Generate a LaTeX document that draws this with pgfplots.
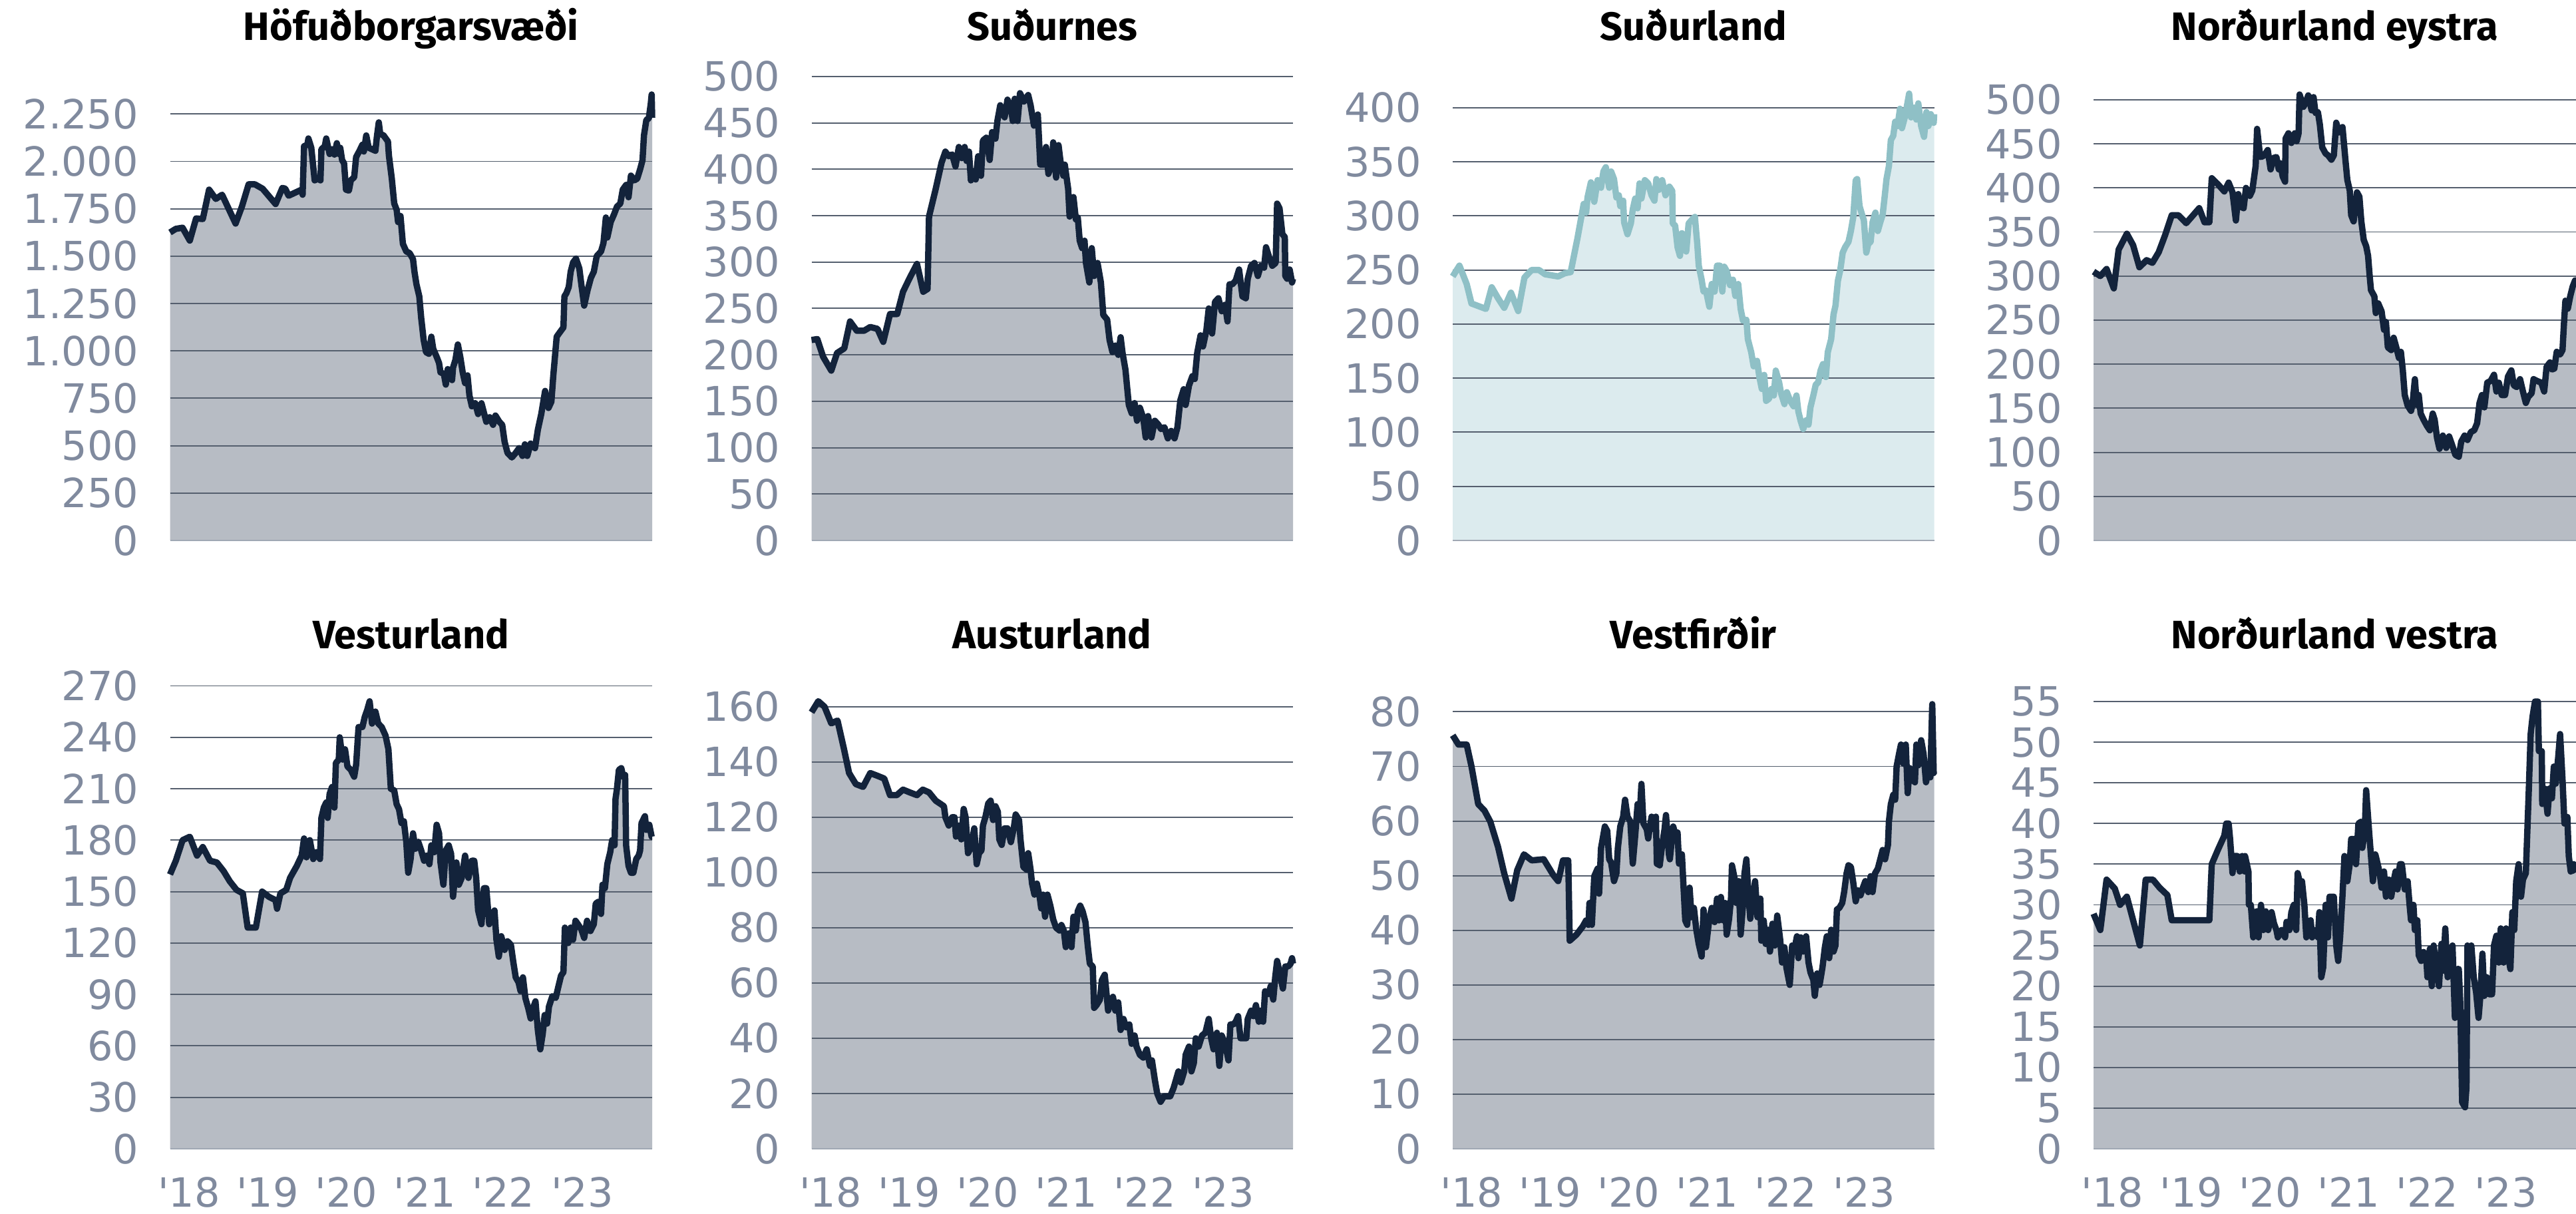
\documentclass[border=0pt]{standalone}
\usepackage{pgfplots}
\pgfplotsset{compat=1.18}
\usepackage{pgfplotstable}
\usepackage{fontspec}
\newfontfamily\tickfamily{DejaVu Sans}
\newfontfamily\titlefamily{Fira Sans}
\newcommand\tickfont{\tickfamily\fontsize{12.1}{14}\selectfont}
\newcommand\titlefont{\titlefamily\bfseries\fontsize{11.9}{14}\selectfont}
\definecolor{navy}{RGB}{19,35,59}
\definecolor{fillgray}{RGB}{183,188,196}
\definecolor{gridc}{RGB}{85,95,110}
\definecolor{basec}{RGB}{160,168,180}
\definecolor{tickc}{RGB}{128,138,158}
\definecolor{tealline}{RGB}{143,192,198}
\definecolor{tealfill}{RGB}{220,235,238}

\pgfplotsset{
  panel/.style={scale only axis, anchor=south west, xmin=0, xmax=100, ymin=0,
    axis line style={draw=none}, tick style={draw=none}, major tick length=0pt,
    ymajorgrids, xmajorgrids=false,
    grid style={color=gridc, line width=0.38pt},
    extra y ticks={0}, extra y tick style={grid=major, grid style={color=basec, line width=0.5pt}},
    clip=false, set layers,
    /pgf/number format/assume math mode=true, /pgf/number format/1000 sep={.},
    yticklabel style={font=\tickfont, text=tickc, inner sep=0pt, xshift=-9.3pt},
    xticklabel style={font=\tickfont, text=tickc, inner sep=0pt, yshift=-8.4pt},
    xtick=\empty},
  bottomrow/.style={xtick={3.93,20.24,36.55,52.86,69.17,85.48}, xticklabels={'18,'19,'20,'21,'22,'23}},
  darkline/.style={color=navy, line width=1.9pt, line join=round},
  darkfill/.style={fill=fillgray, draw=none, on layer=axis background},
}

\pgfplotstableread[row sep=\\]{x y\\
0 1625\\1.2 1644\\2.6 1650\\4.1 1582\\5.4 1699\\6.8 1696\\8.1 1851\\9.5 1802\\10.8 1824\\13.6 1672\\14.9 1761\\16.3 1879\\17.6 1879\\19.2 1856\\21.9 1775\\23.3 1860\\23.9 1856\\24.6 1819\\27.3 1851\\27.5 1824\\27.8 2080\\28.5 2088\\28.7 2121\\29.3 2072\\30.0 1900\\30.7 1909\\31.2 1900\\31.4 2064\\32.1 2080\\32.4 2121\\33.1 2039\\33.6 2064\\34.1 2036\\34.6 2096\\35.0 2039\\35.3 2072\\35.7 2006\\36.1 1990\\36.5 1851\\37.1 1846\\37.5 1900\\38.2 1917\\38.6 2023\\39.3 2056\\39.9 2088\\40.2 2052\\40.7 2137\\41.2 2072\\41.9 2064\\42.6 2056\\42.9 2129\\43.3 2206\\43.6 2145\\44.3 2137\\45.2 2105\\45.4 2031\\46.0 1909\\46.5 1778\\47.0 1745\\47.3 1680\\47.8 1712\\48.3 1565\\49.0 1525\\49.7 1516\\50.4 1484\\50.7 1418\\51.1 1353\\51.7 1288\\52.1 1173\\52.6 1059\\53.1 993\\53.7 985\\54.2 1075\\54.6 1010\\55.3 969\\55.8 936\\56.1 887\\56.8 879\\57.2 822\\57.6 904\\58.0 871\\58.5 846\\58.7 912\\59.2 953\\59.7 1034\\60.2 969\\60.7 887\\61.2 830\\61.7 871\\62.1 765\\62.6 708\\63.3 724\\63.9 667\\64.6 724\\65.1 675\\65.6 626\\66.3 650\\67.0 610\\67.5 659\\68.3 626\\68.9 610\\69.4 520\\70.0 462\\70.9 438\\71.7 462\\72.4 487\\73.1 446\\73.6 507\\74.1 446\\74.8 511\\75.7 487\\76.3 585\\77.0 667\\77.8 789\\78.5 699\\79.1 732\\79.5 871\\80.2 1075\\80.9 1100\\81.6 1124\\81.8 1288\\82.2 1304\\82.7 1337\\83.1 1418\\83.6 1467\\84.2 1487\\84.9 1435\\85.3 1353\\85.9 1239\\86.6 1320\\87.3 1386\\87.9 1418\\88.5 1500\\89.4 1525\\89.9 1569\\90.4 1704\\90.7 1598\\91.4 1680\\92.1 1721\\92.7 1761\\93.4 1778\\93.9 1851\\94.6 1876\\95.1 1811\\95.6 1925\\96.3 1900\\96.9 1909\\97.5 1958\\98.0 2006\\98.3 2137\\98.8 2219\\99.3 2227\\99.7 2301\\99.9 2353\\100 2230\\
}\tA

\pgfplotstableread[row sep=\\]{x y\\
0 216\\1.2 217\\2.4 198\\4.1 183\\5.3 202\\6.8 207\\8.0 236\\9.4 226\\10.9 226\\12.2 230\\13.7 228\\14.9 214\\16.3 244\\17.8 244\\19.0 268\\20.4 283\\21.9 298\\23.2 268\\24.1 271\\24.4 349\\25.8 379\\27.0 407\\27.8 419\\28.5 414\\29.2 416\\29.9 403\\30.6 424\\31.2 412\\31.8 424\\32.2 409\\32.7 419\\33.1 388\\33.6 398\\34.1 389\\34.6 414\\35.2 393\\35.6 431\\36.3 434\\37.0 410\\37.5 440\\38.2 433\\38.6 452\\39.2 469\\40.1 456\\40.7 475\\41.4 467\\41.8 452\\42.2 476\\42.8 452\\43.3 482\\44.1 473\\45.0 480\\45.5 469\\46.2 447\\47.0 459\\47.5 405\\48.3 405\\48.7 424\\49.2 395\\49.9 407\\50.2 429\\50.8 391\\51.3 426\\51.7 409\\52.3 393\\52.6 405\\53.3 379\\53.6 349\\54.4 370\\54.9 346\\55.3 348\\55.7 323\\56.2 315\\56.7 323\\57.0 299\\57.7 278\\58.2 315\\58.7 285\\59.4 299\\60.1 278\\60.6 243\\61.4 238\\61.9 216\\62.5 203\\63.1 210\\63.7 200\\64.2 219\\64.6 202\\65.2 184\\65.9 146\\66.5 137\\67.1 148\\67.6 129\\68.2 143\\68.9 132\\69.4 111\\69.9 134\\70.6 111\\71.3 129\\72.0 125\\72.6 120\\73.3 122\\74.0 110\\74.7 118\\75.4 110\\76.0 122\\76.6 151\\77.3 163\\77.7 146\\78.4 167\\79.1 177\\79.6 174\\80.1 202\\80.8 221\\81.3 209\\82.0 226\\82.5 250\\83.2 223\\83.8 257\\84.5 261\\85.2 247\\85.9 254\\86.4 236\\86.8 276\\87.4 276\\88.1 280\\88.8 292\\89.5 263\\90.2 261\\90.6 282\\91.3 296\\92.0 299\\92.7 285\\93.3 296\\94.0 294\\94.4 316\\95.0 306\\95.7 296\\96.4 299\\96.7 363\\97.2 358\\97.8 330\\98.3 327\\98.4 285\\98.8 282\\99.3 292\\99.8 278\\100 282\\
}\tB

\pgfplotstableread[row sep=\\]{x y\\
0 244\\1.4 254\\2.9 237\\3.9 219\\6.9 214\\8.1 234\\9.4 224\\10.7 215\\12.1 229\\13.6 212\\14.9 243\\16.4 250\\17.9 250\\19.2 246\\21.9 244\\23.3 247\\24.5 248\\25.9 279\\27.2 311\\27.7 303\\28.0 317\\28.7 331\\29.4 313\\30.1 333\\30.8 326\\31.3 341\\31.8 345\\32.5 326\\32.9 341\\33.5 334\\34.0 317\\34.5 319\\34.8 309\\35.4 314\\35.6 294\\36.3 283\\37.0 293\\37.4 306\\37.9 316\\38.4 307\\38.8 330\\39.2 316\\39.9 333\\40.6 330\\41.3 319\\41.9 314\\42.3 334\\42.8 324\\43.5 333\\44.2 319\\45.0 327\\45.6 323\\45.7 293\\46.2 291\\46.7 271\\47.2 263\\47.6 284\\48.1 281\\48.5 267\\49.0 293\\49.8 297\\50.3 299\\50.8 274\\51.1 254\\51.7 241\\52.1 230\\52.6 231\\53.3 216\\53.8 237\\54.4 230\\54.9 254\\55.5 254\\56.0 230\\56.4 253\\56.9 249\\57.6 236\\58.2 241\\58.7 226\\59.3 237\\59.8 214\\60.3 203\\61.0 204\\61.3 186\\62.0 174\\62.5 161\\63.2 166\\63.7 151\\64.2 140\\64.7 153\\65.1 129\\65.7 131\\66.2 140\\66.7 134\\67.1 157\\67.8 146\\68.2 136\\68.9 126\\69.4 137\\70.1 129\\70.8 124\\71.4 134\\71.8 119\\72.3 110\\72.8 103\\73.4 111\\73.9 107\\74.3 123\\74.9 134\\75.4 144\\75.9 146\\76.4 157\\76.9 163\\77.5 151\\77.9 174\\78.6 186\\79.1 209\\79.5 217\\80.0 240\\80.5 250\\81.0 266\\81.5 271\\82.2 276\\82.7 286\\83.2 299\\83.7 333\\84.0 334\\84.5 309\\85.1 300\\85.4 296\\85.9 266\\86.3 274\\86.8 276\\87.2 294\\87.8 303\\88.3 286\\88.8 294\\89.3 301\\89.7 317\\90.1 334\\90.6 346\\91.0 370\\91.5 374\\91.9 387\\92.4 383\\92.9 399\\93.3 381\\93.9 391\\94.4 403\\94.8 413\\95.2 391\\95.8 400\\96.3 389\\96.7 404\\97.3 383\\97.9 373\\98.4 396\\98.8 383\\99.3 394\\99.9 386\\100 394\\
}\tC

\pgfplotstableread[row sep=\\]{x y\\
0 305\\1.4 300\\2.7 308\\4.2 286\\5.2 330\\6.9 348\\8.2 335\\9.5 310\\11.0 318\\12.2 315\\13.5 327\\14.8 346\\16.2 369\\17.6 369\\19.2 360\\21.9 377\\23.0 361\\24.0 361\\24.5 411\\25.8 404\\27.1 396\\28.0 406\\28.8 395\\29.5 363\\30.0 393\\30.4 379\\31.1 377\\31.6 400\\32.4 391\\32.9 397\\33.6 425\\33.9 467\\34.4 442\\34.7 435\\35.4 437\\36.1 443\\36.7 421\\37.3 434\\37.9 435\\38.4 421\\38.7 428\\39.2 413\\39.7 407\\39.8 456\\40.4 462\\41.0 451\\41.7 462\\42.1 453\\42.5 462\\42.7 506\\43.5 492\\44.0 497\\44.5 505\\45.2 488\\45.6 503\\46.0 485\\46.5 486\\46.9 472\\47.4 446\\48.1 439\\48.6 437\\49.3 432\\49.8 437\\50.3 474\\50.9 463\\51.6 469\\52.2 432\\52.6 409\\53.1 397\\53.4 369\\53.9 362\\54.6 395\\55.1 390\\55.5 362\\56.0 341\\56.5 334\\56.9 323\\57.2 302\\57.5 284\\58.2 277\\58.5 258\\59.0 269\\59.7 260\\60.2 239\\60.6 248\\61.0 219\\61.7 216\\62.2 230\\62.8 218\\63.3 207\\63.7 214\\64.1 193\\64.5 165\\65.1 153\\65.8 147\\66.1 154\\66.6 183\\67.0 154\\67.4 165\\67.8 144\\68.4 137\\69.1 130\\69.7 125\\70.3 144\\70.7 137\\71.2 116\\71.7 104\\72.4 119\\73.1 105\\73.7 118\\74.4 107\\75.0 97\\75.7 95\\76.2 112\\76.9 119\\77.5 114\\78.2 123\\78.9 125\\79.5 133\\80.0 156\\80.5 165\\81.0 151\\81.6 179\\82.3 181\\83.0 188\\83.5 169\\84.0 179\\84.6 165\\85.3 165\\85.9 186\\86.6 193\\87.1 176\\87.7 174\\88.4 183\\89.0 169\\89.6 156\\90.1 163\\90.8 167\\91.2 183\\91.9 181\\92.8 179\\93.4 169\\93.9 197\\94.6 202\\95.0 194\\95.5 195\\96.0 214\\96.7 211\\97.2 216\\97.5 246\\97.8 272\\98.3 263\\98.8 277\\99.3 288\\99.8 295\\100 295\\
}\tD

\pgfplotstableread[row sep=\\]{x y\\
0 160\\1.2 168\\2.6 180\\4.1 182\\5.6 171\\6.8 176\\8.3 168\\9.7 167\\11.1 162\\12.4 156\\13.8 151\\15.1 149\\16.1 129\\17.8 129\\19.1 150\\20.5 147\\21.9 145\\22.2 140\\22.9 149\\24.1 151\\24.9 158\\26.3 165\\27.3 171\\27.8 181\\28.3 170\\29.0 180\\29.7 169\\30.4 173\\31.1 169\\31.4 193\\31.9 199\\32.4 202\\32.7 193\\33.1 207\\33.6 211\\34.1 199\\34.4 225\\35.0 227\\35.2 240\\35.8 227\\36.3 233\\36.8 223\\37.5 221\\38.2 217\\38.6 224\\39.1 246\\39.9 246\\40.4 252\\40.9 256\\41.4 261\\41.9 248\\42.6 255\\43.2 248\\43.9 246\\44.7 241\\45.3 233\\45.8 210\\46.5 209\\47.0 201\\47.5 198\\48.0 190\\48.5 191\\49.0 179\\49.4 161\\49.9 169\\50.4 184\\50.9 175\\51.5 179\\52.1 174\\52.7 168\\53.3 171\\53.8 166\\54.2 177\\54.8 173\\55.3 189\\55.8 184\\56.1 167\\56.7 154\\57.2 174\\57.8 177\\58.3 172\\58.7 147\\59.4 167\\59.9 154\\60.5 158\\61.2 171\\61.9 158\\62.6 168\\63.1 168\\63.5 158\\63.9 139\\64.6 131\\65.1 152\\65.6 152\\66.2 131\\66.7 135\\67.3 139\\67.7 122\\68.2 112\\68.7 124\\69.4 116\\70.0 121\\70.7 119\\71.2 109\\71.7 100\\72.3 97\\72.7 92\\73.2 100\\73.7 88\\74.3 82\\74.8 76\\75.3 82\\75.8 86\\76.3 69\\76.8 58\\77.3 67\\77.7 78\\78.2 73\\78.6 83\\79.3 89\\80.0 88\\80.5 94\\81.1 101\\81.6 103\\81.9 129\\82.6 120\\83.1 129\\83.6 122\\84.1 133\\84.6 131\\85.3 128\\85.9 123\\86.5 133\\87.2 127\\87.9 131\\88.3 143\\88.8 144\\89.4 137\\89.7 154\\90.2 152\\90.7 166\\91.3 173\\91.7 180\\92.2 177\\92.4 204\\92.7 210\\93.1 221\\93.6 222\\94.0 217\\94.4 218\\94.6 177\\95.1 165\\95.6 161\\96.1 161\\96.7 169\\97.2 171\\97.5 174\\97.8 190\\98.5 194\\98.8 186\\99.4 189\\99.9 182\\100 182\\
}\tE

\pgfplotstableread[row sep=\\]{x y\\
0 158\\1.4 162\\2.7 160\\4.1 154\\5.4 155\\6.7 145\\7.8 136\\9.2 132\\10.7 131\\12.2 136\\13.7 135\\15.1 134\\16.3 128\\17.7 128\\19.0 130\\20.4 129\\21.9 128\\23.1 130\\24.4 129\\25.8 126\\27.5 124\\27.8 120\\28.5 117\\29.2 120\\29.7 120\\30.0 113\\30.6 117\\31.1 112\\31.6 123\\32.0 120\\32.5 107\\33.1 109\\33.8 116\\34.3 103\\34.8 107\\35.3 108\\35.6 117\\36.1 120\\36.7 125\\37.2 126\\37.7 119\\38.2 124\\38.7 122\\39.0 112\\39.5 110\\40.1 116\\40.7 116\\41.4 111\\42.0 116\\42.4 121\\43.1 119\\43.4 112\\44.0 102\\44.7 101\\45.0 107\\45.5 101\\45.8 96\\46.3 92\\46.8 96\\47.4 91\\47.7 87\\48.1 92\\48.5 84\\49.0 92\\49.6 88\\50.2 83\\50.8 80\\51.5 79\\51.9 81\\52.4 79\\52.8 73\\53.5 78\\54.0 73\\54.4 84\\54.9 79\\55.3 86\\55.8 88\\56.3 86\\56.9 82\\57.4 73\\57.8 67\\58.4 66\\58.7 51\\59.2 52\\59.9 54\\60.3 61\\60.9 63\\61.6 50\\62.1 53\\62.6 55\\63.1 50\\63.7 53\\64.2 43\\64.8 47\\65.3 44\\66.0 45\\66.5 38\\67.1 41\\67.5 37\\68.2 34\\68.9 33\\69.6 36\\70.3 30\\70.7 32\\71.3 25\\71.8 20\\72.5 17\\73.2 19\\73.9 19\\74.5 19\\75.2 22\\75.7 25\\76.2 28\\76.7 24\\77.4 28\\77.7 34\\78.4 37\\78.9 28\\79.4 31\\79.8 40\\80.4 37\\81.1 41\\81.8 42\\82.5 47\\83.0 40\\83.5 36\\84.2 42\\84.7 30\\85.2 41\\85.9 38\\86.6 32\\87.0 45\\87.6 45\\88.1 46\\88.6 48\\89.1 40\\89.7 40\\90.3 40\\90.6 47\\91.3 50\\91.8 48\\92.3 52\\92.9 46\\93.3 50\\93.8 46\\94.2 57\\94.9 56\\95.4 59\\95.9 54\\96.3 62\\96.7 68\\97.2 64\\97.9 58\\98.4 66\\99.0 66\\99.5 67\\99.8 69\\100 67\\
}\tF

\pgfplotstableread[row sep=\\]{x y\\
0 75.7\\1.2 74.0\\2.9 74.0\\3.9 70.0\\5.3 63.1\\6.6 61.9\\7.8 59.9\\9.4 55.3\\10.7 50.4\\12.2 45.8\\13.4 51.0\\14.8 53.9\\16.4 52.8\\18.9 53.0\\20.9 50.1\\21.9 49.0\\22.9 52.8\\24.0 52.8\\24.3 38.1\\25.7 39.2\\27.0 40.7\\27.7 41.8\\28.2 41.0\\28.4 45.0\\28.9 41.0\\29.4 49.9\\30.1 51.3\\30.4 46.7\\30.8 55.0\\31.6 59.0\\32.1 58.2\\32.5 53.0\\32.9 52.4\\33.5 49.0\\34.0 50.4\\34.3 55.0\\34.8 59.0\\35.4 60.8\\35.8 63.9\\36.3 60.8\\36.9 59.9\\37.4 52.2\\37.9 57.3\\38.4 63.1\\38.8 60.2\\39.2 66.8\\39.6 59.6\\40.3 58.5\\40.6 56.8\\41.3 60.8\\41.8 58.5\\42.2 60.8\\42.4 52.2\\43.0 51.9\\43.5 55.6\\44.0 58.5\\44.3 61.1\\44.9 53.9\\45.1 53.0\\45.8 59.0\\46.4 57.0\\46.7 57.9\\47.0 52.2\\47.6 53.9\\47.9 48.7\\48.3 41.8\\48.7 41.0\\49.2 47.8\\49.6 42.4\\50.1 44.1\\50.6 40.1\\51.1 37.5\\51.7 35.2\\52.1 43.8\\52.6 36.9\\53.3 42.1\\53.8 44.1\\54.4 41.5\\54.9 45.8\\55.3 41.8\\55.7 46.1\\56.2 41.8\\56.6 45.0\\56.9 39.2\\57.4 42.1\\57.8 45.8\\58.0 51.9\\58.6 49.3\\58.9 45.0\\59.4 49.0\\59.8 39.2\\60.3 44.7\\60.6 50.4\\61.0 53.0\\61.3 48.1\\61.8 42.1\\62.3 45.8\\62.8 49.0\\63.3 42.4\\63.9 45.8\\64.1 38.1\\64.6 41.8\\65.0 37.5\\65.5 40.1\\65.9 36.1\\66.4 41.2\\66.9 37.2\\67.4 42.7\\68.0 38.4\\68.4 34.1\\68.9 36.9\\69.3 33.2\\70.0 30.0\\70.5 37.2\\71.0 36.6\\71.5 38.9\\71.8 34.9\\72.3 38.7\\72.8 36.1\\73.4 38.9\\73.9 34.1\\74.3 32.3\\74.9 30.9\\75.2 28.0\\75.7 32.1\\76.2 30.0\\76.8 33.2\\77.3 36.9\\77.7 38.9\\78.2 34.9\\78.6 40.1\\79.1 36.1\\79.5 37.2\\79.8 43.8\\80.3 44.1\\80.9 45.0\\81.3 47.0\\81.8 50.4\\82.2 51.9\\82.7 51.6\\83.2 48.7\\83.7 45.3\\84.2 47.3\\84.7 46.4\\85.2 47.8\\85.7 49.0\\86.3 47.0\\86.8 49.9\\87.2 47.0\\87.7 50.4\\88.3 51.3\\88.8 53.0\\89.3 54.7\\89.8 53.0\\90.4 55.6\\90.6 59.9\\91.0 63.1\\91.5 64.8\\91.9 63.9\\92.2 70.0\\92.7 72.3\\93.1 74.0\\93.6 70.5\\94.1 74.0\\94.5 65.1\\94.9 69.7\\95.4 67.7\\96.0 67.1\\96.3 74.0\\96.7 70.2\\97.3 74.8\\97.8 72.3\\98.3 67.1\\98.8 69.1\\99.2 68.0\\99.6 81.4\\99.9 68.8\\100 69\\
}\tG

\pgfplotstableread[row sep=\\]{x y\\
0 28.9\\1.4 26.9\\2.7 33.1\\4.4 32.0\\5.5 30.0\\6.9 31.0\\8.2 28.1\\9.6 25.0\\10.8 33.1\\12.3 33.1\\13.7 32.1\\15.3 31.2\\16.2 28.1\\24.0 28.1\\24.5 35.0\\25.8 36.8\\27.1 38.5\\27.5 40.0\\28.0 40.0\\28.3 38.1\\28.8 33.9\\29.1 36.0\\29.8 36.0\\30.3 34.1\\30.8 36.0\\31.3 34.1\\31.4 36.0\\32.1 34.1\\32.2 30.0\\32.6 30.0\\33.1 26.0\\33.8 29.2\\34.2 26.0\\34.7 30.0\\35.2 26.9\\35.7 29.2\\36.2 26.9\\36.9 29.1\\37.4 27.7\\37.9 26.9\\38.2 26.0\\39.0 26.9\\39.7 26.0\\40.0 27.9\\40.6 26.9\\41.0 29.1\\41.5 30.0\\42.0 26.9\\42.3 33.9\\42.7 32.9\\43.2 32.9\\43.7 30.0\\44.1 26.0\\45.0 28.1\\45.3 26.0\\46.1 26.9\\46.5 26.0\\46.8 29.1\\47.2 21.1\\47.6 22.3\\48.1 30.0\\48.6 26.0\\48.9 31.0\\49.8 31.0\\50.3 25.0\\50.7 23.1\\51.1 26.0\\51.6 31.2\\52.0 36.0\\52.6 32.9\\53.1 35.0\\53.4 38.1\\53.9 38.1\\54.4 35.0\\54.9 40.0\\55.4 40.2\\55.7 37.0\\56.2 38.9\\56.5 44.1\\57.1 39.1\\57.5 36.0\\57.9 32.9\\58.4 36.2\\58.9 35.0\\59.3 33.9\\59.7 32.1\\60.2 34.1\\60.6 31.0\\61.2 33.1\\61.7 31.0\\62.2 32.9\\62.6 34.1\\63.0 31.9\\63.5 35.0\\63.9 35.0\\64.5 31.9\\65.1 32.9\\65.5 30.0\\65.8 28.1\\66.3 30.0\\66.6 26.9\\67.1 28.1\\67.4 23.8\\67.9 23.1\\68.4 24.2\\69.0 23.1\\69.2 21.1\\69.7 24.6\\70.1 20.0\\70.5 25.0\\71.1 21.9\\71.6 20.0\\72.1 25.2\\72.5 21.9\\72.9 27.1\\73.4 21.1\\73.9 23.1\\74.4 25.0\\74.9 16.1\\75.4 22.1\\75.7 22.1\\76.0 18.1\\76.4 5.7\\77.0 5.1\\77.3 7.6\\77.5 25.0\\78.0 22.1\\78.3 25.0\\78.8 21.1\\79.3 19.2\\79.8 16.1\\80.2 19.0\\80.6 24.0\\81.0 18.8\\81.5 21.1\\82.0 19.0\\82.6 19.0\\83.0 25.0\\83.5 26.2\\84.0 22.9\\84.4 27.1\\85.0 22.9\\85.5 27.1\\85.9 23.8\\86.4 22.1\\86.8 29.1\\87.2 26.9\\87.6 32.9\\88.1 35.0\\88.6 31.0\\89.0 33.1\\89.6 33.9\\89.9 38.9\\90.2 43.9\\90.6 51.0\\91.0 53.2\\91.5 55.0\\92.1 55.0\\92.3 48.9\\92.9 48.9\\93.0 42.4\\93.5 44.3\\94.1 41.2\\94.5 44.3\\95.0 43.1\\95.4 47.0\\95.8 44.9\\96.3 48.1\\96.7 51.0\\97.2 45.4\\97.6 40.0\\98.2 40.8\\98.5 36.0\\98.9 34.1\\99.5 35.0\\99.9 34.1\\100 34\\
}\tH

\begin{document}
\begin{tikzpicture}

% Row 1
\begin{axis}[panel, at={(51.1pt,202.2pt)}, width=144.9pt, height=134.06pt, ymax=2354, ytick={250,500,...,2250}]
\addplot[darkfill] table {\tA} \closedcycle;
\addplot[darkline] table {\tA};
\end{axis}
\begin{axis}[panel, at={(243.9pt,202.2pt)}, width=144.7pt, height=139.42pt, ymax=500, ytick={50,100,...,500}]
\addplot[darkfill] table {\tB} \closedcycle;
\addplot[darkline] table {\tB};
\end{axis}
\begin{axis}[panel, at={(436.6pt,202.2pt)}, width=144.7pt, height=134.6pt, ymax=414, ytick={50,100,...,400}]
\addplot[fill=tealfill, draw=none, on layer=axis background] table {\tC} \closedcycle;
\addplot[color=tealline, line width=1.9pt, line join=round] table {\tC};
\end{axis}
\begin{axis}[panel, at={(629.2pt,202.2pt)}, width=145pt, height=134.8pt, ymax=509, ytick={50,100,...,500}]
\addplot[darkfill] table {\tD} \closedcycle;
\addplot[darkline] table {\tD};
\end{axis}

% Row 2
\begin{axis}[panel, bottomrow, at={(51.1pt,19.4pt)}, width=144.9pt, height=139.1pt, ymax=270, ytick={30,60,...,270}]
\addplot[darkfill] table {\tE} \closedcycle;
\addplot[darkline] table {\tE};
\end{axis}
\begin{axis}[panel, bottomrow, at={(243.9pt,19.4pt)}, width=144.7pt, height=134.9pt, ymax=162.5, ytick={20,40,...,160}]
\addplot[darkfill] table {\tF} \closedcycle;
\addplot[darkline] table {\tF};
\end{axis}
\begin{axis}[panel, bottomrow, at={(436.6pt,19.4pt)}, width=144.7pt, height=134.6pt, ymax=82, ytick={10,20,...,80}]
\addplot[darkfill] table {\tG} \closedcycle;
\addplot[darkline] table {\tG};
\end{axis}
\begin{axis}[panel, bottomrow, at={(629.2pt,19.4pt)}, width=145pt, height=134.4pt, ymax=55, ytick={5,10,...,55}]
\addplot[darkfill] table {\tH} \closedcycle;
\addplot[darkline] table {\tH};
\end{axis}

% Titles
\node[anchor=base, font=\titlefont] at (123.55pt,352.4pt) {Höfuðborgarsvæði};
\node[anchor=base, font=\titlefont] at (316.25pt,352.4pt) {Suðurnes};
\node[anchor=base, font=\titlefont] at (508.95pt,352.4pt) {Suðurland};
\node[anchor=base, font=\titlefont] at (701.7pt,352.4pt) {Norðurland eystra};
\node[anchor=base, font=\titlefont] at (123.55pt,169.6pt) {Vesturland};
\node[anchor=base, font=\titlefont] at (316.25pt,169.6pt) {Austurland};
\node[anchor=base, font=\titlefont] at (508.95pt,169.6pt) {Vestfirðir};
\node[anchor=base, font=\titlefont] at (701.7pt,169.6pt) {Norðurland vestra};

\pgfresetboundingbox
\path[use as bounding box] (0,0) rectangle (774.2pt,364.6pt);
\end{tikzpicture}
\end{document}
